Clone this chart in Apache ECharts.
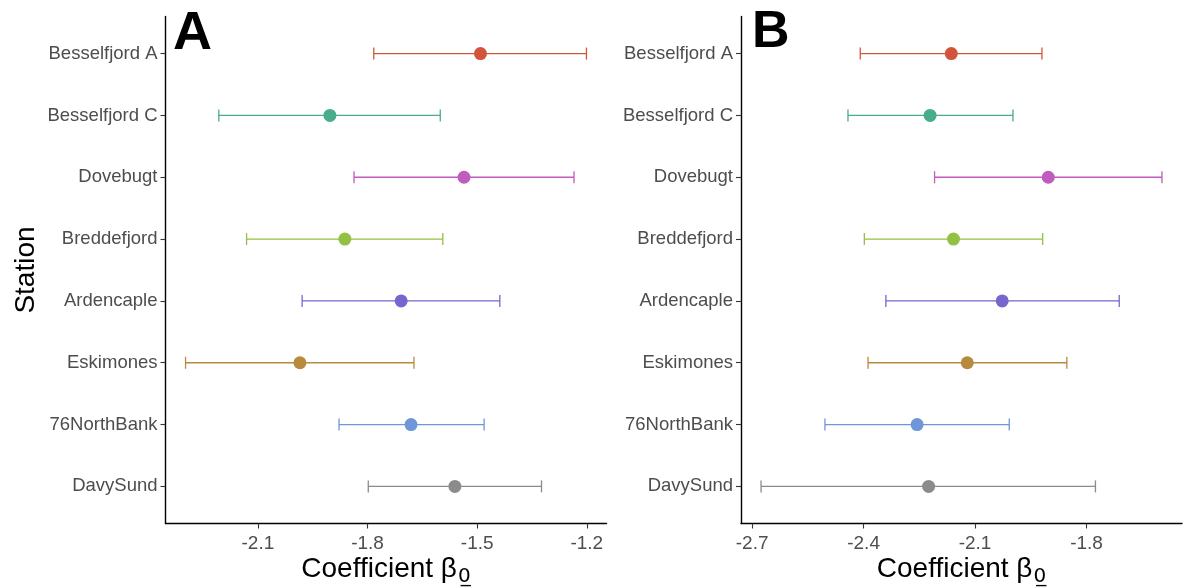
<!DOCTYPE html>
<html>
<head>
<meta charset="utf-8">
<script src="https://cdn.jsdelivr.net/npm/echarts@6/dist/echarts.min.js"></script>
<style>
html,body{margin:0;padding:0;background:#fff;}
#chart{width:1188px;height:588px;}
</style>
</head>
<body>
<div id="chart"></div>
<script>
const stations = ["Besselfjord A","Besselfjord C","Dovebugt","Breddefjord","Ardencaple","Eskimones","76NorthBank","DavySund"];
const colors = ["#D2553B","#47AD8A","#C15BBE","#94C043","#7667CF","#B78A3D","#6E96D8","#8B8B8B"];

// Panel A
const estA   = [-1.491,-1.903,-1.536,-1.862,-1.708,-1.985,-1.681,-1.561];
const lowerA = [-1.783,-2.207,-1.837,-2.131,-1.979,-2.298,-1.878,-1.798];
const upperA = [-1.201,-1.601,-1.235,-1.594,-1.438,-1.673,-1.481,-1.324];
const ticksA = [-2.1,-1.8,-1.5,-1.2];

// Panel B
const estB   = [-2.164,-2.221,-1.903,-2.158,-2.027,-2.121,-2.256,-2.225];
const lowerB = [-2.409,-2.442,-2.209,-2.398,-2.340,-2.388,-2.504,-2.676];
const upperB = [-1.920,-1.998,-1.597,-1.918,-1.712,-1.853,-2.008,-1.776];
const ticksB = [-2.7,-2.4,-2.1,-1.8];

const FONT = '"Liberation Sans", Arial, Helvetica, sans-serif';

function pad(lo, hi){ const r = hi - lo; return [lo - 0.05*r, hi + 0.05*r]; }
const rangeA = pad(Math.min(...lowerA), Math.max(...upperA));
const rangeB = pad(Math.min(...lowerB), Math.max(...upperB));

const idx = stations.map((_, i) => i);

function xAxisFor(gi, range, ticks){
  return {
    type:'value', gridIndex: gi, min: range[0], max: range[1],
    splitLine:{show:false},
    axisLine:{show:true, onZero:false, lineStyle:{color:'#000', width:1.4}},
    axisTick:{show:true, length:5, lineStyle:{color:'#333', width:1.1}, customValues: ticks},
    axisLabel:{color:'#4D4D4D', fontSize:19, fontFamily:FONT, margin:11, customValues: ticks},
    name:'{a|Coefficient β}{s|0\u0332}',
    nameLocation:'middle', nameGap:32, nameMoveOverlap:false,
    nameTextStyle:{
      rich:{
        a:{fontSize:28, fontFamily:FONT, color:'#000', lineHeight:34, verticalAlign:'top'},
        s:{fontSize:20, fontFamily:'"DejaVu Sans", sans-serif', color:'#000', lineHeight:34, verticalAlign:'top', padding:[11,0,0,1]}
      }
    }
  };
}
function yAxisFor(gi, withName){
  return {
    type:'value', gridIndex: gi, inverse:true, min:-0.6, max: stations.length - 0.4,
    splitLine:{show:false},
    axisLine:{show:true, onZero:false, lineStyle:{color:'#000', width:1.4}},
    axisTick:{show:true, length:5, lineStyle:{color:'#333', width:1.1}, customValues: idx},
    axisLabel:{color:'#4D4D4D', fontSize:18.5, fontFamily:FONT, margin:8, customValues: idx,
      formatter: v => stations[Math.round(v)] || ''},
    name: withName ? 'Station' : '',
    nameLocation:'middle', nameGap:125, nameRotate:90, nameMoveOverlap:false,
    nameTextStyle:{fontSize:28, fontFamily:FONT, color:'#000'}
  };
}

function errData(lo, hi){
  return stations.map((s,i)=>({value:[lo[i], hi[i], i], itemStyle:{color:colors[i]}}));
}
function ptData(est){
  return stations.map((s,i)=>({value:[est[i], i], itemStyle:{color:colors[i], opacity:1}}));
}
function renderErr(params, api){
  const lo = api.value(0), hi = api.value(1), y = api.value(2);
  const p1 = api.coord([lo, y]), p2 = api.coord([hi, y]);
  const c = api.visual('color');
  const h = 6;
  const st = {stroke:c, lineWidth:1.3, fill:null};
  return {type:'group', children:[
    {type:'line', shape:{x1:p1[0], y1:p1[1], x2:p2[0], y2:p2[1]}, style:st},
    {type:'line', shape:{x1:p1[0], y1:p1[1]-h, x2:p1[0], y2:p1[1]+h}, style:st},
    {type:'line', shape:{x1:p2[0], y1:p2[1]-h, x2:p2[0], y2:p2[1]+h}, style:st}
  ]};
}

const chart = echarts.init(document.getElementById('chart'), null, {renderer:'canvas'});
chart.setOption({
  backgroundColor:'#fff',
  animation:false,
  title:[
    {text:'A', left:168, top:2, textStyle:{fontSize:54, fontWeight:'bold', fontFamily:FONT, color:'#000'}},
    {text:'B', left:747, top:2, textStyle:{fontSize:52, fontWeight:'bold', fontFamily:FONT, color:'#000'}}
  ],
  grid:[
    {left:165.5, top:16.5, width:441, height:507, containLabel:false, outerBoundsMode:'none'},
    {left:741, top:16.5, width:441, height:507, containLabel:false, outerBoundsMode:'none'}
  ],
  xAxis:[xAxisFor(0, rangeA, ticksA), xAxisFor(1, rangeB, ticksB)],
  yAxis:[yAxisFor(0, true), yAxisFor(1, false)],
  series:[
    {type:'custom', xAxisIndex:0, yAxisIndex:0, renderItem:renderErr, data:errData(lowerA, upperA), encode:{x:[0,1], y:2}, z:2},
    {type:'scatter', xAxisIndex:0, yAxisIndex:0, symbolSize:13, data:ptData(estA), z:3},
    {type:'custom', xAxisIndex:1, yAxisIndex:1, renderItem:renderErr, data:errData(lowerB, upperB), encode:{x:[0,1], y:2}, z:2},
    {type:'scatter', xAxisIndex:1, yAxisIndex:1, symbolSize:13, data:ptData(estB), z:3}
  ]
});
</script>
</body>
</html>
